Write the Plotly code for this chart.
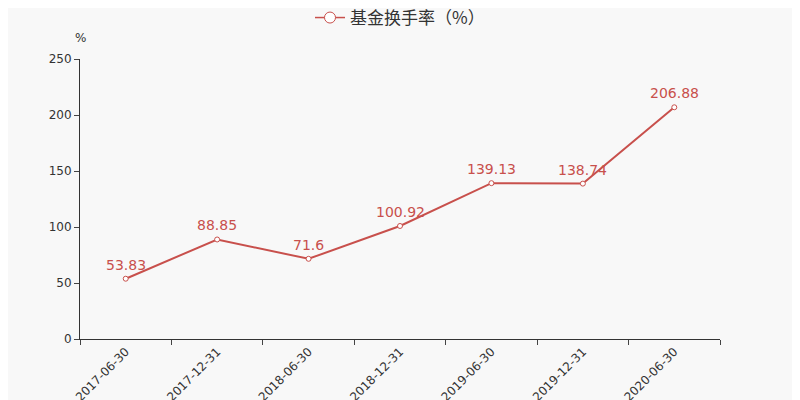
import plotly.graph_objects as go

dates = ["2017-06-30", "2017-12-31", "2018-06-30", "2018-12-31",
         "2019-06-30", "2019-12-31", "2020-06-30"]
turnover = [53.83, 88.85, 71.6, 100.92, 139.13, 138.74, 206.88]
y_ticks = [0, 50, 100, 150, 200, 250]

red = "#c8504c"

fig = go.Figure()
fig.add_trace(go.Scatter(
    x=dates, y=turnover,
    mode="lines+markers",
    showlegend=False,
    line=dict(color=red, width=2),
    marker=dict(size=5, color="white", line=dict(color=red, width=1)),
    cliponaxis=False,
))
# legend entry with a bigger hollow circle
fig.add_trace(go.Scatter(
    x=[None], y=[None], mode="lines+markers",
    name="基金换手率（%）",
    line=dict(color=red, width=1.5),
    marker=dict(size=11, color="white", line=dict(color=red, width=1)),
))

# value labels above points
for d, v in zip(dates, turnover):
    fig.add_annotation(x=d, y=v, text=str(v), showarrow=False, yanchor="bottom", yshift=4,
                       font=dict(color=red, size=14, family="DejaVu Sans"))

fig.add_annotation(text="%", x=0, xref="paper", xanchor="center", y=1.075, yref="paper",
                   yanchor="middle", showarrow=False, font=dict(size=12, color="#333"))

# page body has an 8px margin, so everything is pulled up/left by 8px
fig.update_layout(
    width=800, height=400,
    paper_bgcolor="#f8f8f8", plot_bgcolor="#f8f8f8",
    margin=dict(l=72, r=88, t=51, b=69),
    font=dict(family="DejaVu Sans, Noto Sans CJK SC", color="#333"),
    showlegend=True,
    legend=dict(orientation="h", x=0.5, xanchor="center", y=0.975, yanchor="middle",
                yref="container", font=dict(size=17, family="Noto Sans CJK SC", color="#333"),
                bgcolor="rgba(0,0,0,0)", itemwidth=30),
    xaxis=dict(type="category", range=[-0.5, len(dates) - 0.5], tickson="boundaries",
               ticks="outside", ticklen=5,
               showline=True, linecolor="#333", linewidth=1, showgrid=False,
               tickangle=-45, tickfont=dict(size=12, color="#333"), zeroline=False,
               automargin=False),
    yaxis=dict(range=[0, 250], tickvals=y_ticks, ticks="outside", ticklen=5,
               showline=True, linecolor="#333", linewidth=1, showgrid=False,
               zeroline=False, tickfont=dict(size=12, color="#333"), automargin=False),
)

fig.write_html("out.html")
